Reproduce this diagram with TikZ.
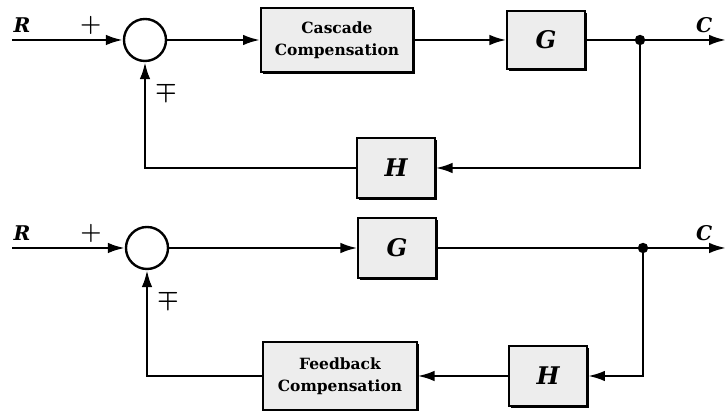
\documentclass[tikz,border=0pt]{standalone}
\usepackage{fontspec}
\setmainfont{DejaVu Serif}
\usetikzlibrary{arrows.meta,positioning,shadows}

\begin{document}
\begin{tikzpicture}[
  x=0.025cm, y=-0.025cm,
  >={Latex[length=12pt,width=7.5pt]},
  wire/.style={line width=1.7pt},
  sig/.style={wire, ->},
  blk/.style={draw, line width=1.5pt, fill=black!7, align=center,
              inner sep=2pt, font=\bfseries\fontsize{11}{16}\selectfont,
              drop shadow={shadow xshift=1.4pt, shadow yshift=-1.4pt,
                           opacity=1, fill=black}},
  tf/.style={blk, font=\bfseries\itshape\LARGE},
  sum/.style={draw, circle, line width=1.7pt, fill=white,
              minimum size=1.05cm, inner sep=0pt},
  dot/.style={circle, fill=black, minimum size=0.26cm, inner sep=0pt},
  sgn/.style={font=\LARGE\boldmath},
  lbl/.style={font=\bfseries\itshape\Large},
]
  \useasboundingbox (0,0) rectangle (726,411);

  % Cascade compensation loop
  \coordinate (r1) at (12,40);
  \node[sum] (s1) at (145,40) {};
  \node[blk, minimum width=3.8cm, minimum height=1.6cm] (cc) at (337,40)
       {Cascade\\Compensation};
  \node[tf, minimum width=1.93cm, minimum height=1.43cm] (g1) at (546,40) {G};
  \node[dot] (j1) at (640,40) {};
  \coordinate (c1) at (726,40);
  \node[tf, minimum width=1.93cm, minimum height=1.5cm] (h1) at (396,168) {H};

  \draw[sig] (r1) -- (s1.west)
    node[lbl, pos=0.09, above=1pt] {R}
    node[sgn, pos=0.71, above=0pt] {$+$};
  \draw[sig] (s1.east) -- (cc.west);
  \draw[sig] (cc.east) -- (g1.west);
  \draw[wire] (g1.east) -- (j1);
  \draw[sig] (j1) -- (c1) node[lbl, pos=0.73, above=1pt] {C};
  \draw[sig] (j1) |- (h1.east);
  \draw[sig] (h1.west) -| (s1.south)
    node[sgn, pos=0.86, right=3pt] {$\mp$};

  % Feedback compensation loop
  \coordinate (r2) at (12,248);
  \node[sum] (s2) at (147,248) {};
  \node[tf, minimum width=1.93cm, minimum height=1.48cm] (g2) at (397,248) {G};
  \node[dot] (j2) at (643,248) {};
  \coordinate (c2) at (726,248);
  \node[tf, minimum width=1.95cm, minimum height=1.48cm] (h2) at (548,376) {H};
  \node[blk, minimum width=3.83cm, minimum height=1.68cm] (fb) at (340,376)
       {Feedback\\Compensation};

  \draw[sig] (r2) -- (s2.west)
    node[lbl, pos=0.09, above=1pt] {R}
    node[sgn, pos=0.7, above=0pt] {$+$};
  \draw[sig] (s2.east) -- (g2.west);
  \draw[wire] (g2.east) -- (j2);
  \draw[sig] (j2) -- (c2) node[lbl, pos=0.72, above=1pt] {C};
  \draw[sig] (j2) |- (h2.east);
  \draw[sig] (h2.west) -- (fb.east);
  \draw[sig] (fb.west) -| (s2.south)
    node[sgn, pos=0.86, right=3pt] {$\mp$};
\end{tikzpicture}
\end{document}
